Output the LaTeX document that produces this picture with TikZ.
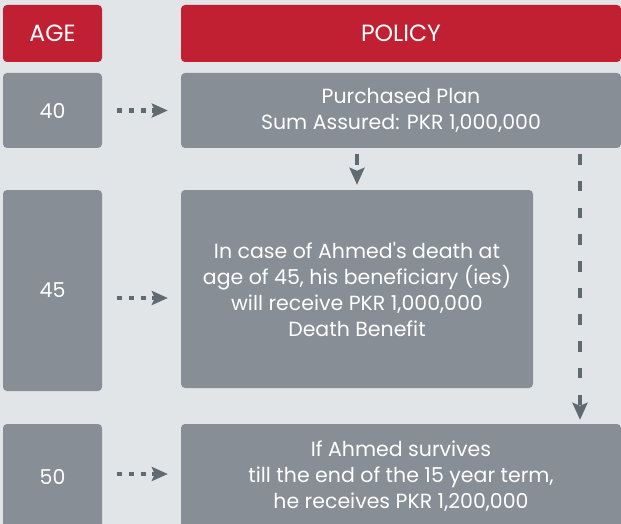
\documentclass[tikz,border=0pt]{standalone}
\usepackage{fontspec}
\setmainfont{Poppins}
\usetikzlibrary{arrows.meta}
\definecolor{bggray}{RGB}{225,229,232}
\definecolor{boxgray}{RGB}{135,142,149}
\definecolor{headred}{RGB}{193,32,51}
\definecolor{arrowgray}{RGB}{95,106,113}

\begin{document}
\begin{tikzpicture}[x=1pt,y=-1pt]
    \tikzstyle{cell} = [rounded corners=4pt, inner sep=0pt, text=white, align=center, font=\fontsize{20.5}{26}\selectfont]
    \tikzstyle{head} = [cell, fill=headred, font=\fontsize{23.5}{27}\selectfont]
    \tikzstyle{body} = [cell, fill=boxgray]
    \tikzstyle{dotarrow} = [arrowgray, line width=4.5pt, dash pattern=on 5pt off 6.7pt, -{Stealth[length=16pt,width=14pt,inset=3pt]}]
    \tikzstyle{dasharrow} = [arrowgray, line width=4pt, dash pattern=on 10.5pt off 16.2pt, -{Stealth[length=17pt,width=15pt,inset=3pt]}]

    \fill[bggray] (0,0) rectangle (621,524);
    \clip (0,0) rectangle (621,524);

    % headings
    \node[head, minimum width=99pt, minimum height=57pt] (agehead) at (52.5,33.5) {AGE};
    \node[head, minimum width=440pt, minimum height=57pt] (polhead) at (401,33.5) {POLICY};

    % rows
    \node[body, minimum width=99pt, minimum height=75pt] (age40) at (52.5,110.5) {40};
    \node[body, minimum width=440pt, minimum height=75pt] (plan) at (401,110.5) {Purchased Plan\\Sum Assured: PKR 1,000,000};

    \node[body, minimum width=99pt, minimum height=201pt] (age45) at (52.5,290.5) {45};
    \node[body, minimum width=352pt, minimum height=198pt] (death) at (357,289) {In case of Ahmed\textquotesingle s death at\\age of 45, his beneficiary (ies)\\will receive PKR 1,000,000\\Death Benefit};

    \node[body, minimum width=99pt, minimum height=105pt] (age50) at (52.5,476.5) {50};
    \node[body, minimum width=440pt, minimum height=105pt] (survive) at (401,476.5) {If Ahmed survives\\till the end of the 15 year term,\\he receives PKR 1,200,000};

    % age to policy
    \draw[dotarrow, shorten <=15pt, shorten >=13pt] (age40) -- (plan);
    \draw[dotarrow, shorten <=15pt, shorten >=13pt] ([yshift=-7.5pt]age45.east) -- ([yshift=-7.5pt]age45.east -| death.west);
    \draw[dotarrow, shorten <=15pt, shorten >=13pt] ([yshift=2.5pt]age50.east) -- ([yshift=2.5pt]age50.east -| survive.west);

    % plan to outcomes
    \draw[dasharrow, shorten <=6pt, shorten >=5pt] (death.north |- plan.south) -- (death.north);
    \draw[dasharrow, shorten <=6pt, shorten >=4pt] ([xshift=179pt]plan.south) -- ([xshift=179pt]survive.north);
\end{tikzpicture}
\end{document}
